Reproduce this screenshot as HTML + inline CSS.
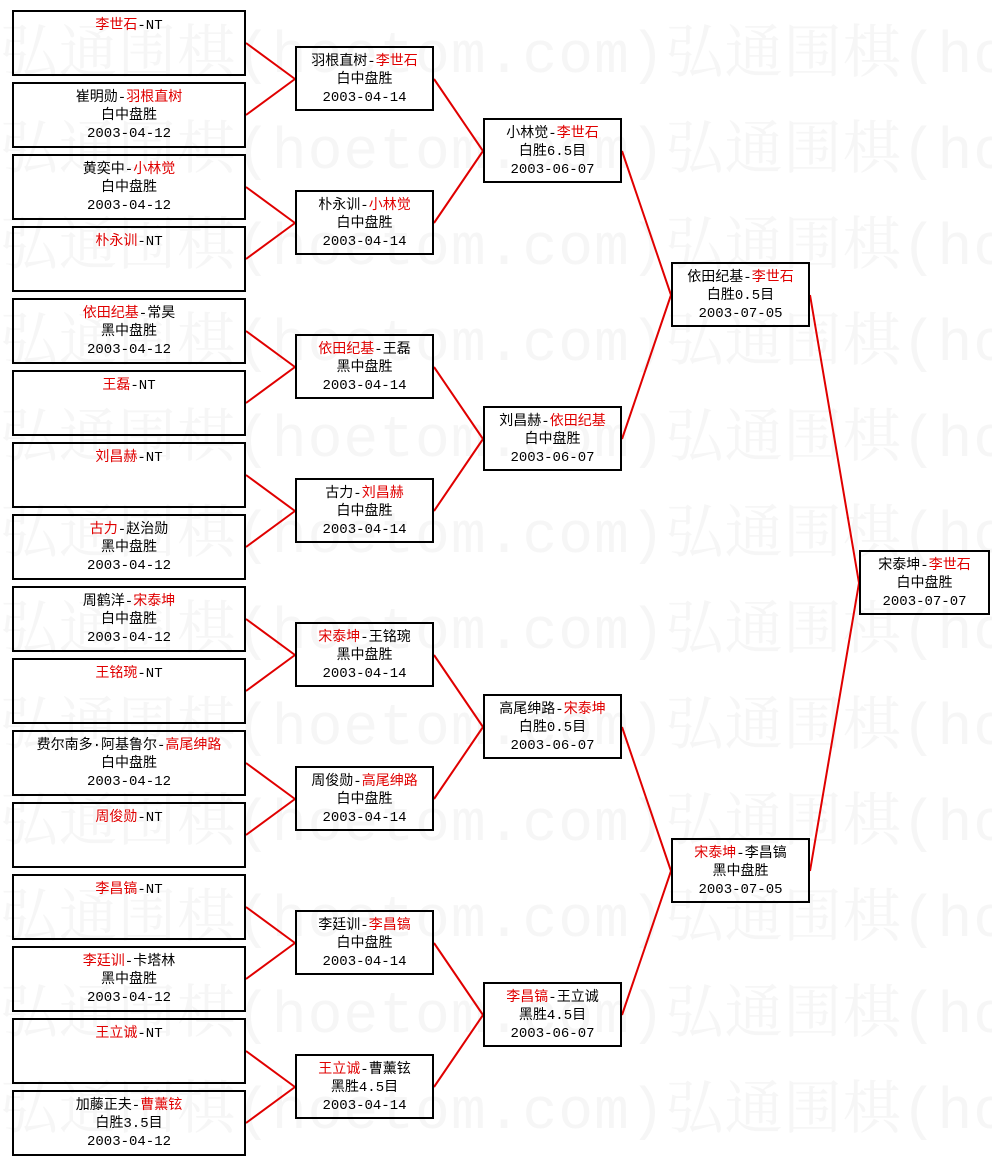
<!DOCTYPE html>
<html><head><meta charset="utf-8"><style>
body{margin:0;width:992px;height:1165px;background:#fff;position:relative;overflow:hidden;font-family:"Liberation Mono","Noto Sans CJK SC",monospace;}
.wm{position:absolute;left:0;white-space:nowrap;font-family:"Liberation Mono","Noto Serif CJK SC",monospace;font-size:58px;color:#f6f6f6;line-height:60px;letter-spacing:1px;}
.b{position:absolute;border:2px solid #000;box-sizing:border-box;text-align:center;padding-top:5px;line-height:18px;font-size:14px;color:#000;background:transparent;white-space:nowrap;}
.r1{left:12px;width:234px;height:66px;}
.r2{left:295px;width:139px;height:65px;}
.r3{left:483px;width:139px;height:65px;}
.r4{left:671px;width:139px;height:65px;}
.rf{left:859px;width:131px;height:65px;}
.r{color:#e00000;}
svg{position:absolute;left:0;top:0;}
</style></head><body>
<div class="wm" style="top:28px">弘通围棋(hoetom.com)弘通围棋(hoetom.com)</div>
<div class="wm" style="top:124px">弘通围棋(hoetom.com)弘通围棋(hoetom.com)</div>
<div class="wm" style="top:220px">弘通围棋(hoetom.com)弘通围棋(hoetom.com)</div>
<div class="wm" style="top:316px">弘通围棋(hoetom.com)弘通围棋(hoetom.com)</div>
<div class="wm" style="top:412px">弘通围棋(hoetom.com)弘通围棋(hoetom.com)</div>
<div class="wm" style="top:508px">弘通围棋(hoetom.com)弘通围棋(hoetom.com)</div>
<div class="wm" style="top:604px">弘通围棋(hoetom.com)弘通围棋(hoetom.com)</div>
<div class="wm" style="top:700px">弘通围棋(hoetom.com)弘通围棋(hoetom.com)</div>
<div class="wm" style="top:796px">弘通围棋(hoetom.com)弘通围棋(hoetom.com)</div>
<div class="wm" style="top:892px">弘通围棋(hoetom.com)弘通围棋(hoetom.com)</div>
<div class="wm" style="top:988px">弘通围棋(hoetom.com)弘通围棋(hoetom.com)</div>
<div class="wm" style="top:1084px">弘通围棋(hoetom.com)弘通围棋(hoetom.com)</div>

<svg width="992" height="1165" stroke="#e00000" stroke-width="2" fill="none">
<path d="M246 43L295 79M246 115L295 79M246 187L295 223M246 259L295 223M246 331L295 367M246 403L295 367M246 475L295 511M246 547L295 511M246 619L295 655M246 691L295 655M246 763L295 799M246 835L295 799M246 907L295 943M246 979L295 943M246 1051L295 1087M246 1123L295 1087"/>
<path d="M434 79L483 151M434 223L483 151M434 367L483 439M434 511L483 439M434 655L483 727M434 799L483 727M434 943L483 1015M434 1087L483 1015"/>
<path d="M622 151L671 295M622 439L671 295M622 727L671 871M622 1015L671 871"/>
<path d="M810 295L859 583M810 871L859 583"/>
</svg>

<div class="b r1" style="top:10px"><span class="r">李世石</span>-NT</div>
<div class="b r1" style="top:82px">崔明勋-<span class="r">羽根直树</span><br>白中盘胜<br>2003-04-12</div>
<div class="b r1" style="top:154px">黄奕中-<span class="r">小林觉</span><br>白中盘胜<br>2003-04-12</div>
<div class="b r1" style="top:226px"><span class="r">朴永训</span>-NT</div>
<div class="b r1" style="top:298px"><span class="r">依田纪基</span>-常昊<br>黑中盘胜<br>2003-04-12</div>
<div class="b r1" style="top:370px"><span class="r">王磊</span>-NT</div>
<div class="b r1" style="top:442px"><span class="r">刘昌赫</span>-NT</div>
<div class="b r1" style="top:514px"><span class="r">古力</span>-赵治勋<br>黑中盘胜<br>2003-04-12</div>
<div class="b r1" style="top:586px">周鹤洋-<span class="r">宋泰坤</span><br>白中盘胜<br>2003-04-12</div>
<div class="b r1" style="top:658px"><span class="r">王铭琬</span>-NT</div>
<div class="b r1" style="top:730px">费尔南多·阿基鲁尔-<span class="r">高尾绅路</span><br>白中盘胜<br>2003-04-12</div>
<div class="b r1" style="top:802px"><span class="r">周俊勋</span>-NT</div>
<div class="b r1" style="top:874px"><span class="r">李昌镐</span>-NT</div>
<div class="b r1" style="top:946px"><span class="r">李廷训</span>-卡塔林<br>黑中盘胜<br>2003-04-12</div>
<div class="b r1" style="top:1018px"><span class="r">王立诚</span>-NT</div>
<div class="b r1" style="top:1090px">加藤正夫-<span class="r">曹薰铉</span><br>白胜3.5目<br>2003-04-12</div>

<div class="b r2" style="top:46px">羽根直树-<span class="r">李世石</span><br>白中盘胜<br>2003-04-14</div>
<div class="b r2" style="top:190px">朴永训-<span class="r">小林觉</span><br>白中盘胜<br>2003-04-14</div>
<div class="b r2" style="top:334px"><span class="r">依田纪基</span>-王磊<br>黑中盘胜<br>2003-04-14</div>
<div class="b r2" style="top:478px">古力-<span class="r">刘昌赫</span><br>白中盘胜<br>2003-04-14</div>
<div class="b r2" style="top:622px"><span class="r">宋泰坤</span>-王铭琬<br>黑中盘胜<br>2003-04-14</div>
<div class="b r2" style="top:766px">周俊勋-<span class="r">高尾绅路</span><br>白中盘胜<br>2003-04-14</div>
<div class="b r2" style="top:910px">李廷训-<span class="r">李昌镐</span><br>白中盘胜<br>2003-04-14</div>
<div class="b r2" style="top:1054px"><span class="r">王立诚</span>-曹薰铉<br>黑胜4.5目<br>2003-04-14</div>

<div class="b r3" style="top:118px">小林觉-<span class="r">李世石</span><br>白胜6.5目<br>2003-06-07</div>
<div class="b r3" style="top:406px">刘昌赫-<span class="r">依田纪基</span><br>白中盘胜<br>2003-06-07</div>
<div class="b r3" style="top:694px">高尾绅路-<span class="r">宋泰坤</span><br>白胜0.5目<br>2003-06-07</div>
<div class="b r3" style="top:982px"><span class="r">李昌镐</span>-王立诚<br>黑胜4.5目<br>2003-06-07</div>

<div class="b r4" style="top:262px">依田纪基-<span class="r">李世石</span><br>白胜0.5目<br>2003-07-05</div>
<div class="b r4" style="top:838px"><span class="r">宋泰坤</span>-李昌镐<br>黑中盘胜<br>2003-07-05</div>

<div class="b rf" style="top:550px">宋泰坤-<span class="r">李世石</span><br>白中盘胜<br>2003-07-07</div>
</body></html>
